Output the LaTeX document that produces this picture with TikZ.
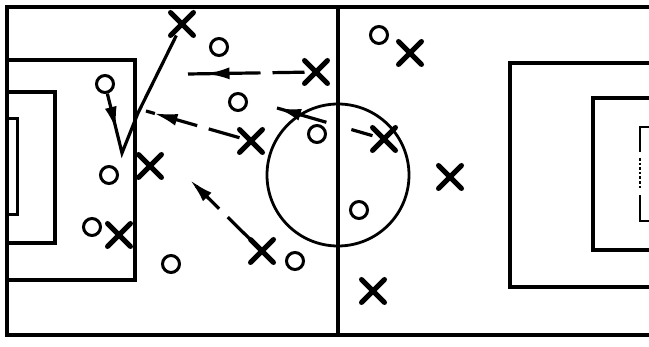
\documentclass[tikz,border=0pt]{standalone}
\usetikzlibrary{shapes.misc,arrows.meta,decorations.markings}
\tikzset{
  pitchline/.style={draw=black,line width=3.6pt},
  oman/.style={circle,draw=black,line width=3pt,minimum size=17pt,inner sep=0pt},
  xman/.style={cross out,draw=black,line width=5pt,minimum size=18pt,inner sep=0pt,line cap=round},
  runline/.style={draw=black,line width=3.2pt},
  passline/.style={draw=black,line width=3.2pt,dash pattern=on 32pt off 12pt},
  tipat/.style={postaction={decorate},decoration={markings,mark=at position #1 with {\arrow{Latex[length=24pt,width=12pt]}}}},
}
\begin{document}
\begin{tikzpicture}[x=1pt,y=-1pt]
\path[use as bounding box,fill=white] (0,0) rectangle (649,347);
% pitch
\draw[pitchline] (649,7) -- (7,7) -- (7,335) -- (649,335);
\draw[pitchline] (338,7) -- (338,335);
\draw[pitchline,line width=2.8pt] (338,175) circle (71pt);
\draw[pitchline] (7,60) rectangle (135,280);
\draw[pitchline] (7,92) rectangle (55,243);
\draw[pitchline,line width=3pt] (7,119) rectangle (17,215);
\draw[pitchline] (649,63) -- (510,63) -- (510,287) -- (649,287);
\draw[pitchline] (649,98) -- (593,98) -- (593,250) -- (649,250);
\draw[pitchline,line width=2.6pt] (649,127) -- (640,127) -- (640,152);
\draw[pitchline,line width=2.6pt,dotted] (640,158) -- (640,190);
\draw[pitchline,line width=2.6pt] (640,195) -- (640,221) -- (649,221);
% players
\node[oman] (o1) at (219,47) {};
\node[oman] (o2) at (105,84) {};
\node[oman] (o3) at (238,102) {};
\node[oman] (o4) at (317,134) {};
\node[oman] (o5) at (109,175) {};
\node[oman] (o6) at (92,227) {};
\node[oman] (o7) at (171,264) {};
\node[oman] (o8) at (295,261) {};
\node[oman] (o9) at (359,210) {};
\node[oman] (o10) at (379,35) {};
\node[xman] (x1) at (182,24) {};
\node[xman] (x2) at (316,72) {};
\node[xman] (x3) at (251,141) {};
\node[xman] (x4) at (150,166) {};
\node[xman] (x5) at (119,235) {};
\node[xman] (x6) at (262,251) {};
\node[xman] (x7) at (373,291) {};
\node[xman] (x8) at (384,139) {};
\node[xman] (x9) at (410,53) {};
\node[xman] (x10) at (450,177) {};
% moves
\coordinate (v1) at (122,153);
\coordinate (v2) at (138,113);
\coordinate (p1) at (188,74);
\coordinate (p2) at (146,111);
\coordinate (p3) at (190,180);
\coordinate (p4) at (277,108);
\draw[runline,tipat=0.2] (o2) -- (v1) -- (v2) -- (x1);
\draw[passline,tipat=0.85] (x2) -- (p1);
\draw[passline,tipat=0.92] (x3) -- (p2);
\draw[passline,tipat=1] (x6) -- (p3);
\draw[passline,dash pattern=on 22pt off 26pt on 80pt,tipat=1] (x8) -- (p4);
\end{tikzpicture}
\end{document}
